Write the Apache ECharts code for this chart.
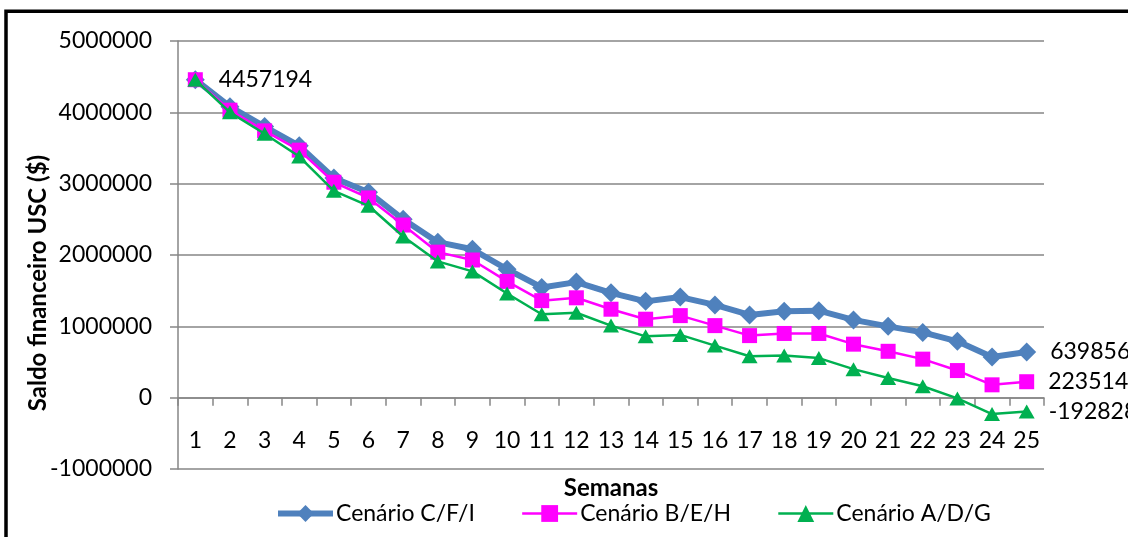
<!DOCTYPE html>
<html>
<head>
<meta charset="utf-8">
<script src="https://cdn.jsdelivr.net/npm/echarts@6/dist/echarts.min.js"></script>
<style>
  html, body { margin: 0; padding: 0; background: #fff; }
  #chart { width: 1128px; height: 537px; }
</style>
</head>
<body>
<div id="chart"></div>
<script>
// Semanas (weeks) on the category axis
const semanas = ['1','2','3','4','5','6','7','8','9','10','11','12','13','14','15','16','17','18','19','20','21','22','23','24','25'];

// Saldo financeiro USC ($) per scenario
const cenarioCFI = [4457194, 4080000, 3800000, 3530000, 3080000, 2880000, 2500000, 2180000, 2080000, 1800000,
  1545000, 1620000, 1470000, 1350000, 1410000, 1300000, 1160000, 1210000, 1220000, 1090000,
  1000000, 915000, 790000, 570000, 639856];
const cenarioBEH = [4457194, 4030000, 3740000, 3470000, 3020000, 2800000, 2420000, 2040000, 1930000, 1630000,
  1360000, 1400000, 1240000, 1100000, 1150000, 1010000, 870000, 900000, 900000, 750000,
  650000, 540000, 380000, 180000, 223514];
const cenarioADG = [4457194, 4000000, 3700000, 3380000, 2900000, 2690000, 2260000, 1910000, 1770000, 1460000,
  1170000, 1190000, 1010000, 860000, 880000, 730000, 580000, 590000, 555000, 400000,
  275000, 160000, -10000, -230000, -192828];

const seriesNames = ['Cenário C/F/I', 'Cenário B/E/H', 'Cenário A/D/G'];
const seriesColors = ['#4F81BD', '#FF00FF', '#00B050'];
const lineWidths = [6, 2.5, 2.5];

const FONT = 'Lato';
const labelStyle = { show: true, position: 'right', distance: 14, color: '#000', fontFamily: FONT, fontSize: 23, formatter: '{c}' };

// Mark chosen points with their value as text
function withLabels(values, labelled) {
  return values.map((v, i) => labelled.includes(i) ? { value: v, label: labelStyle } : v);
}

const chart = echarts.init(document.getElementById('chart'), null, { renderer: 'canvas' });

chart.setOption({
  backgroundColor: '#ffffff',
  animation: false,
  textStyle: { fontFamily: FONT },
  graphic: [{
    type: 'rect',
    shape: { x: 6, y: 11.3, width: 1300, height: 700 },
    style: { fill: 'none', stroke: '#000', lineWidth: 3.5 },
    silent: true,
    z: -1
  }],
  grid: { left: 178, right: 84, top: 41, bottom: 68, containLabel: false, outerBoundsMode: 'none' },
  legend: {
    left: 270,
    top: 497,
    itemWidth: 55,
    itemHeight: 21,
    itemGap: 46,
    textStyle: { fontFamily: FONT, fontSize: 23, color: '#000', padding: [0, 0, 0, -2] },
    data: seriesNames.map((n, i) => ({ name: n, lineStyle: { width: lineWidths[i], color: seriesColors[i] } }))
  },
  xAxis: {
    type: 'category',
    data: semanas,
    boundaryGap: true,
    name: 'Semanas',
    nameLocation: 'middle',
    nameGap: 7,
    nameMoveOverlap: false,
    nameTextStyle: { fontFamily: FONT, fontSize: 24, fontWeight: 'bold', color: '#000' },
    axisLine: { onZero: true, lineStyle: { color: '#868686', width: 1.5 } },
    axisTick: { show: true, interval: 0, length: 8, lineStyle: { color: '#868686', width: 1.5 } },
    axisLabel: { interval: 0, margin: -40, fontFamily: FONT, fontSize: 23, color: '#000' },
    splitLine: { show: false }
  },
  yAxis: {
    type: 'value',
    min: -1000000,
    max: 5000000,
    interval: 1000000,
    name: 'Saldo financeiro USC ($)',
    nameLocation: 'middle',
    nameRotate: 90,
    nameGap: 128,
    nameMoveOverlap: false,
    nameTextStyle: { fontFamily: FONT, fontSize: 24, fontWeight: 'bold', color: '#000', padding: [0, 56, 0, 0] },
    axisLine: { show: true, lineStyle: { color: '#868686', width: 1.5 } },
    axisTick: { show: true, length: 8, lineStyle: { color: '#868686', width: 1.5 } },
    axisLabel: { margin: 26, fontFamily: FONT, fontSize: 23, color: '#000', formatter: v => String(v) },
    splitLine: { show: true, lineStyle: { color: '#868686', width: 1.5 } }
  },
  series: [
    {
      name: seriesNames[0],
      type: 'line',
      data: withLabels(cenarioCFI, [0, cenarioCFI.length - 1]),
      symbol: 'diamond',
      symbolSize: 19,
      lineStyle: { color: seriesColors[0], width: lineWidths[0] },
      itemStyle: { color: seriesColors[0] },
      z: 2
    },
    {
      name: seriesNames[1],
      type: 'line',
      data: withLabels(cenarioBEH, [cenarioBEH.length - 1]),
      symbol: 'rect',
      symbolSize: 15,
      lineStyle: { color: seriesColors[1], width: lineWidths[1] },
      itemStyle: { color: seriesColors[1] },
      z: 3
    },
    {
      name: seriesNames[2],
      type: 'line',
      data: withLabels(cenarioADG, [cenarioADG.length - 1]),
      symbol: 'triangle',
      symbolSize: [16, 14],
      lineStyle: { color: seriesColors[2], width: lineWidths[2] },
      itemStyle: { color: seriesColors[2] },
      z: 4
    }
  ]
});
</script>
</body>
</html>
